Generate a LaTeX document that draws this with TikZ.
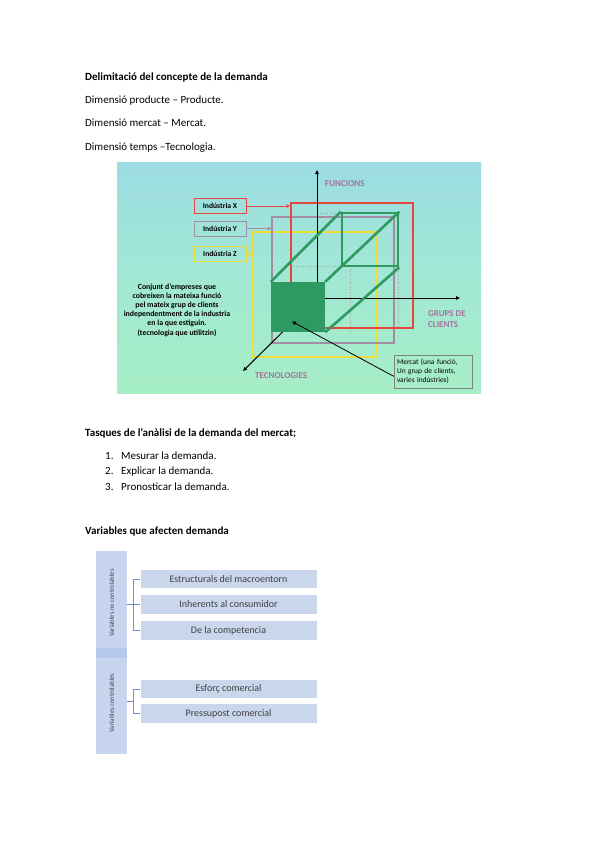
\documentclass[tikz,border=0pt]{standalone}
\usepackage{fontspec}
\setmainfont{Carlito}
\usetikzlibrary{arrows.meta}
\definecolor{bgtop}{HTML}{9CDCE2}
\definecolor{bgmid}{HTML}{A2E8D4}
\definecolor{bgbot}{HTML}{A6EEC6}
\definecolor{indred}{HTML}{E8453C}
\definecolor{indpur}{HTML}{A38DA3}
\definecolor{indyel}{HTML}{F0DC3A}
\definecolor{cubegreen}{HTML}{2E9A62}
\definecolor{labmauve}{HTML}{A8709E}
\definecolor{boxblue}{HTML}{C9D6EC}
\definecolor{colblue}{HTML}{C7D5EE}
\definecolor{colstrip}{HTML}{B5C8EA}
\definecolor{linkblue}{HTML}{6E8FC8}
\definecolor{txtgray}{HTML}{404040}
\tikzset{
  bodytext/.style={anchor=base west, inner sep=0pt, font=\fontsize{11}{13}\selectfont},
  headtext/.style={bodytext, font=\bfseries\fontsize{11}{13}\selectfont},
  indrect/.style={draw, line width=1.8pt, minimum width=#1, inner sep=0pt},
  indlabel/.style={draw, line width=1pt, minimum width=52pt, minimum height=15pt, inner sep=0pt, font=\bfseries\fontsize{7.6}{8}\selectfont},
  indarrow/.style={line width=1pt, -{Triangle[length=3.5pt,width=3.5pt]}},
  axis/.style={line width=1pt, black, -{Triangle[length=4pt,width=3.5pt]}},
  axlabel/.style={font=\bfseries\fontsize{9}{10.5}\selectfont, text=labmauve, inner sep=0pt},
  cubeline/.style={cubegreen, line width=2.6pt},
  faint/.style={gray!70, dotted, line width=0.6pt},
  vbox/.style={fill=boxblue, draw=white, line width=1pt, minimum width=177pt, minimum height=19.5pt, inner sep=0pt, font=\fontsize{10}{11}\selectfont, text=txtgray},
  link/.style={linkblue, line width=0.7pt},
  vlabel/.style={rotate=90, inner sep=0pt, font=\fontsize{6.6}{7}\selectfont, text=txtgray}
}
\begin{document}
\begin{tikzpicture}[x=1pt,y=-1pt]
\useasboundingbox (0,0) rectangle (600,848);
\fill[white] (0,0) rectangle (600,848);

% --- header texts
\node[headtext] (t0) at (85,81) {Delimitació del concepte de la demanda};
\node[bodytext] (t1) at (85,104) {Dimensió producte – Producte.};
\node[bodytext] (t2) at (85,127) {Dimensió mercat – Mercat.};
\node[bodytext] (t3) at (85,150) {Dimensió temps –Tecnologia.};

% --- picture background
\shade[top color=bgtop, bottom color=bgbot, middle color=bgmid] (117,162) rectangle (481,393);

% faint dotted guide lines
\draw[faint] (317,213) -- (342,213);
\draw[faint] (293,266) -- (342,266);
\draw[faint] (350,266) -- (350,333);
\draw[faint] (398,266) -- (398,330);

% industry rectangles
\node[indrect=123pt, draw=indyel, minimum height=125pt] (rz) at (314.5,294.5) {};
\node[indrect=122pt, draw=indpur, line width=1.5pt, minimum height=126pt] (ry) at (333,280) {};
\node[indrect=122pt, draw=indred, minimum height=125pt] (rx) at (352,265.5) {};

% axes
\coordinate (o) at (317,298);
\coordinate (fy) at (317,170);
\coordinate (gx) at (460,298);
\coordinate (tz) at (243,371);
\draw[axis] (o) -- (fy);
\draw[axis] (o) -- (gx);
\draw[axis] (o) -- (tz);

% cube
\node[draw=cubegreen, line width=2.6pt, minimum width=56pt, minimum height=53pt, inner sep=0pt] (back) at (370,239.5) {};
\node[fill=cubegreen, minimum width=54pt, minimum height=50pt, inner sep=0pt] (front) at (298,307) {};
\draw[cubeline] (front.north west) -- (back.north west);
\draw[cubeline] (front.north east) -- (back.north east);
\draw[cubeline] (front.south east) -- (back.south east);

% axis labels
\node[axlabel, anchor=west] (lf) at (325,184) {FUNCIONS};
\node[axlabel, align=left, anchor=west] (lg) at (428,319) {GRUPS DE\\CLIENTS};
\node[axlabel, anchor=west] (lt) at (255,376) {TECNOLOGIES};

% industry labels
\node[indlabel, draw=indred] (lx) at (220,206) {Indústria X};
\node[indlabel, draw=indpur] (ly) at (220,228.5) {Indústria Y};
\node[indlabel, draw=indyel] (lz) at (220,254) {Indústria Z};
\draw[indarrow, indred] (lx.east) -- (lx.east -| rx.west);
\draw[indarrow, indpur] (ly.east) -- (ly.east -| ry.west);
\draw[indarrow, indyel] (lz.east) -- (lz.east -| rz.west);

% left description
\node[align=center, font=\bfseries\fontsize{7.8}{9.2}\selectfont, inner sep=0pt] (desc) at (177,310)
  {Conjunt d’empreses que\\cobreixen la mateixa funció\\pel mateix grup de clients\\independentment de la industria\\en la que estiguin.\\(tecnologia que utilitzin)};

% mercat box
\node[draw=gray, line width=0.6pt, minimum width=78pt, minimum height=33pt, text width=72pt, align=left, inner sep=3pt, font=\fontsize{7.4}{8.8}\selectfont] (mb) at (433,371.3)
  {Mercat (una funció,\\Un grup de clients,\\varies indústries)};
\coordinate (mt) at (292,321.5);
\draw[line width=0.8pt, -{Triangle[length=4pt,width=3.5pt]}] ([yshift=-5pt]mb.west) -- (mt);

% --- tasks
\node[headtext] (h2) at (85,436) {Tasques de l’anàlisi de la demanda del mercat;};
\node[bodytext] (n1) at (105,459) {1.};
\node[bodytext] (i1) at (121,459) {Mesurar la demanda.};
\node[bodytext] (n2) at (105,474.5) {2.};
\node[bodytext] (i2) at (121,474.5) {Explicar la demanda.};
\node[bodytext] (n3) at (105,490) {3.};
\node[bodytext] (i3) at (121,490) {Pronosticar la demanda.};

\node[headtext] (h3) at (85,534) {Variables que afecten demanda};

% --- variables diagram
\node[fill=colblue, minimum width=31pt, minimum height=203pt, inner sep=0pt, anchor=north west] (col) at (96,551) {};
\fill[colstrip] (96,648) rectangle (127,658);
\node[vlabel] (v1) at (111.5,603) {Variables no controlables};
\node[vlabel] (v2) at (111.5,703) {Variables controlables};

\node[vbox] (b1) at (228.5,579) {Estructurals del macroentorn};
\node[vbox] (b2) at (228.5,604.5) {Inherents al consumidor};
\node[vbox] (b3) at (228.5,630.5) {De la competencia};
\node[vbox] (b4) at (228.5,689) {Esforç comercial};
\node[vbox] (b5) at (228.5,713.5) {Pressupost comercial};

\coordinate (c1) at (127,604.5);
\coordinate (j1) at (133,604.5);
\coordinate (c2) at (127,701.5);
\coordinate (j2) at (133,701.5);
\draw[link] (b1.west) -- (b1.west -| j1) -- (b3.west -| j1) -- (b3.west);
\draw[link] (c1) -- (b2.west);
\draw[link] (b4.west) -- (b4.west -| j2) -- (b5.west -| j2) -- (b5.west);
\draw[link] (c2) -- (j2);
\end{tikzpicture}
\end{document}
